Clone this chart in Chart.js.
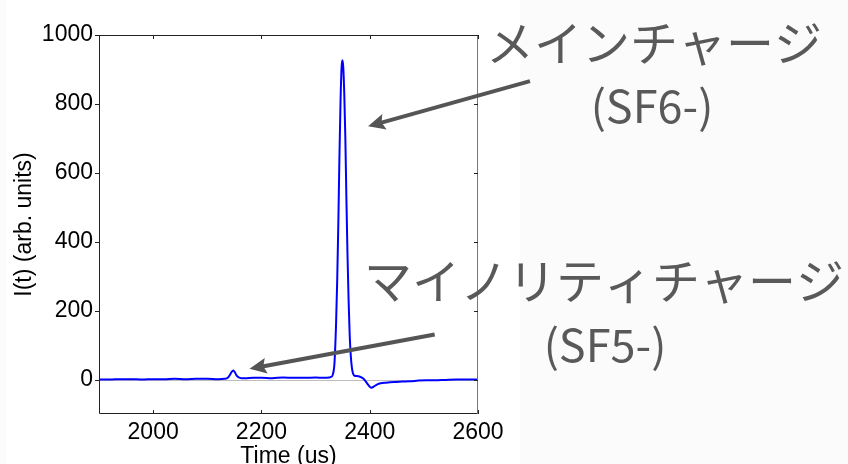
<!DOCTYPE html>
<html>
<head>
<meta charset="utf-8">
<script src="https://cdn.jsdelivr.net/npm/chart.js@4/dist/chart.umd.min.js"></script>
<style>
html,body{margin:0;padding:0;background:#fff;}
canvas{display:block;}
</style>
</head>
<body>
<canvas id="c" width="848" height="464"></canvas>
<script>
// ---- data ----
const times = [1900,1920,1940,1960,1980,2000,2020,2040,2060,2080,2100,2120,2132,2138,2142,2145,2148,2151,2154,2158,2163,2170,2185,2200,2220,2240,2260,2280,2300,2315,2325,2329,2332,2335,2338,2340,2342,2344,2346,2348,2349.5,2351,2353,2355,2357,2359,2361,2363,2365,2367,2369,2372,2376,2382,2388,2393,2398,2403,2408,2414,2420,2430,2445,2460,2475,2490,2505,2520,2540,2560,2580,2600];
const current = [0,0,1,1,0,1,1,2,1,2,2,1,2,5,14,22,26,21,12,6,4,4,5,5,4,6,5,5,6,5,6,8,15,50,170,290,450,640,800,905,927,910,830,700,520,360,230,130,70,35,18,11,10,8,3,-6,-17,-24,-20,-14,-11,-9,-7,-6,-5,-3,-2,-2,-1,0,0,0];
const xTickValues = [2000,2200,2400,2600];
const yTickValues = [0,200,400,600,800,1000];
const xTitle = 'Time (us)';
const yTitle = 'I(t) (arb. units)';
const mainLabel = ['メインチャージ', '(SF6-)'];
const minorLabel = ['マイノリティチャージ', '(SF5-)'];
// arrow anchors in data coordinates [time, value]
const mainArrow = {from:[2696,866], to:[2397,735]};
const minorArrow = {from:[2520,131], to:[2178,31]};

const PL = 99, PT = 35, PR = 478, PB = 414, W = 848, H = 464;

const decor = {
  id:'decor',
  beforeDraw(chart){
    const c = chart.ctx;
    c.save();
    c.fillStyle = '#ffffff';
    c.fillRect(0,0,W,H);
    c.fillStyle = '#fbfbfb';
    c.fillRect(520,0,W-520,H);
    c.fillRect(0,0,6,H);
    c.restore();
  },
  beforeDatasetsDraw(chart){
    const c = chart.ctx, a = chart.chartArea, y = chart.scales.y;
    c.save();
    c.strokeStyle = '#bdbdbd';
    c.lineWidth = 1;
    const y0 = Math.round(y.getPixelForValue(0)) + 0.5;
    c.beginPath(); c.moveTo(a.left, y0); c.lineTo(a.right, y0); c.stroke();
    c.restore();
  },
  afterDatasetsDraw(chart){
    const c = chart.ctx, a = chart.chartArea, xs = chart.scales.x, ys = chart.scales.y;
    c.save();
    c.lineWidth = 1;
    // box
    c.strokeStyle = '#222';
    c.beginPath();
    c.moveTo(a.left+0.5, a.top+0.5); c.lineTo(a.left+0.5, a.bottom-0.5); c.lineTo(a.right, a.bottom-0.5);
    c.moveTo(a.left, a.top+0.5); c.lineTo(a.right, a.top+0.5);
    c.stroke();
    c.strokeStyle = '#777';
    c.beginPath(); c.moveTo(a.right-0.5, a.top); c.lineTo(a.right-0.5, a.bottom); c.stroke();
    // ticks
    c.strokeStyle = '#222';
    c.beginPath();
    xTickValues.forEach(v=>{
      const px = Math.round(xs.getPixelForValue(v))+0.5;
      c.moveTo(px, a.bottom); c.lineTo(px, a.bottom-4);
      c.moveTo(px, a.top); c.lineTo(px, a.top+4);
    });
    yTickValues.forEach(v=>{
      const py = Math.round(ys.getPixelForValue(v))+0.5;
      c.moveTo(a.left, py); c.lineTo(a.left-4, py);
      c.moveTo(a.right, py); c.lineTo(a.right-4, py);
    });
    c.stroke();
    // axis titles
    c.fillStyle = '#000';
    c.font = '23px "Liberation Sans", Arial, sans-serif';
    c.textAlign = 'center';
    c.textBaseline = 'alphabetic';
    c.fillText(xTitle, (a.left+a.right)/2, 462.5);
    c.save();
    c.translate(31, (a.top+a.bottom)/2);
    c.rotate(-Math.PI/2);
    c.fillText(yTitle, 0, 0);
    c.restore();
    c.restore();
  },
  afterDraw(chart){
    const c = chart.ctx, xs = chart.scales.x, ys = chart.scales.y;
    const P = p => [xs.getPixelForValue(p[0]), ys.getPixelForValue(p[1])];
    function arrow(ar){
      const [x1,y1] = P(ar.from), [x2,y2] = P(ar.to);
      const ang = Math.atan2(y2-y1, x2-x1);
      const L = 17, hw = 8;
      const bx = x2 - L*Math.cos(ang), by = y2 - L*Math.sin(ang);
      c.save();
      c.strokeStyle = '#555'; c.fillStyle = '#555';
      c.lineWidth = 4; c.lineCap = 'butt';
      c.beginPath(); c.moveTo(x1,y1); c.lineTo(bx + 4*Math.cos(ang), by + 4*Math.sin(ang)); c.stroke();
      c.beginPath();
      c.moveTo(x2,y2);
      c.lineTo(bx - hw*Math.sin(ang), by + hw*Math.cos(ang));
      c.lineTo(bx + 3*Math.cos(ang), by + 3*Math.sin(ang));
      c.lineTo(bx + hw*Math.sin(ang), by - hw*Math.cos(ang));
      c.closePath(); c.fill();
      c.restore();
    }
    arrow(mainArrow);
    arrow(minorArrow);
    c.save();
    c.fillStyle = '#595959';
    c.textAlign = 'center';
    c.textBaseline = 'middle';
    c.font = '48px "Noto Sans CJK JP", sans-serif';
    c.fillText(mainLabel[0], 654, 43);
    c.fillText(minorLabel[0], 604, 281);
    c.font = '45px "Noto Sans CJK JP", sans-serif';
    c.fillText(mainLabel[1], 652, 106);
    c.fillText(minorLabel[1], 605, 345);
    c.restore();
  }
};

const tickFont = {family:'"Liberation Sans", Arial, sans-serif', size:23};

new Chart(document.getElementById('c'), {
  type:'line',
  data:{
    datasets:[{
      data: times.map((t,i)=>({x:t, y:current[i]})),
      borderColor:'#0000ff',
      borderWidth:2,
      pointRadius:0,
      cubicInterpolationMode:'monotone',
      fill:false
    }]
  },
  options:{
    responsive:false,
    animation:false,
    devicePixelRatio:1,
    layout:{padding:{left:0, top:PT, right:W-PR, bottom:0}},
    plugins:{legend:{display:false}, tooltip:{enabled:false}},
    scales:{
      x:{
        type:'linear', min:1900, max:2600,
        afterBuildTicks(s){ s.ticks = xTickValues.map(v=>({value:v})); },
        afterFit(s){ s.height = H - PB; },
        grid:{display:false, drawTicks:false},
        border:{display:false},
        ticks:{padding:5, color:'#000', font:tickFont, maxRotation:0, autoSkip:false, callback:v=>String(v)}
      },
      y:{
        type:'linear', min:-100, max:1000,
        afterBuildTicks(s){ s.ticks = yTickValues.map(v=>({value:v})); },
        afterFit(s){ s.width = PL; },
        grid:{display:false, drawTicks:false},
        border:{display:false},
        ticks:{padding:6, color:'#000', font:tickFont, autoSkip:false, callback:v=>String(v)}
      }
    }
  },
  plugins:[decor]
});
</script>
</body>
</html>
